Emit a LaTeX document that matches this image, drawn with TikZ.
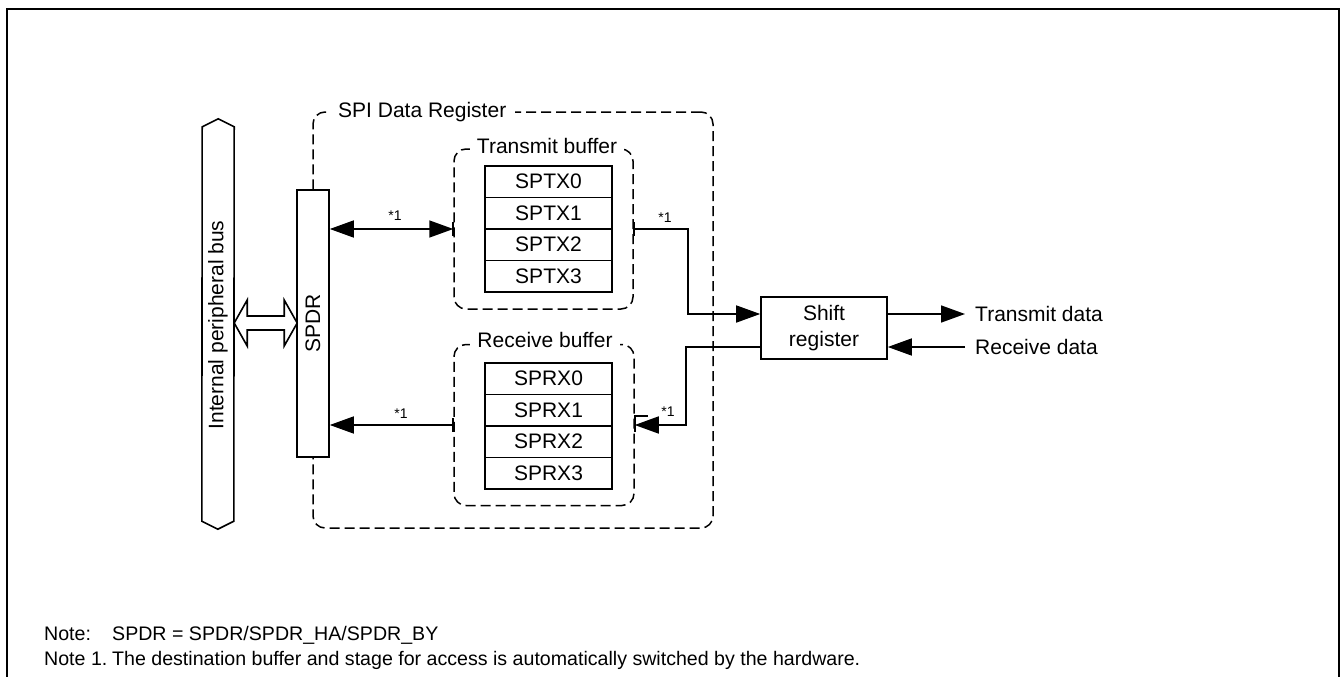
\documentclass[tikz,border=0pt]{standalone}
\usepackage{fontspec}
\setmainfont{Liberation Sans}
\usetikzlibrary{arrows.meta,calc}
\begin{document}
\begin{tikzpicture}[x=1pt,y=-1pt,
 every node/.style={font=\fontsize{21}{25}\selectfont, inner sep=0pt},
 box/.style={draw, line width=1.6pt, fill=white},
 dbox/.style={draw, line width=1.5pt, dash pattern=on 10pt off 5pt, rounded corners=12pt},
 lbl/.style={fill=white, inner ysep=3pt},
 arr/.style={line width=1.6pt, -{Triangle[length=24pt,width=17pt]}},
 darr/.style={line width=1.6pt, {Triangle[length=24pt,width=17pt]}-{Triangle[length=24pt,width=17pt]}},
 star/.style={font=\fontsize{14}{16}\selectfont},
 reg/.style={box, minimum width=127pt, minimum height=31.5pt},
 tick/.style={line width=1.6pt},
 note/.style={font=\fontsize{19.6}{24}\selectfont, anchor=base west},
]
\useasboundingbox (0,0) rectangle (1341,677);
\draw[line width=2.4pt] (7,690) -- (7,9) -- (1339,9) -- (1339,690);

% SPI data register
\node[dbox, minimum width=400pt, minimum height=416pt] (spi) at (513,320) {};
\node[lbl, inner xsep=9pt, anchor=west] (spil) at (329,112) {SPI Data Register};

% transmit buffer
\node[dbox, minimum width=179pt, minimum height=160pt] (txb) at (543.5,229) {};
\node[lbl, inner xsep=7pt] (txbl) at (547,146) {Transmit buffer};
\node[reg] (tx0) at (548.5,181.75) {SPTX0};
\node[reg] (tx1) at (548.5,213.25) {SPTX1};
\node[reg] (tx2) at (548.5,244.75) {SPTX2};
\node[reg] (tx3) at (548.5,276.25) {SPTX3};

% receive buffer
\node[dbox, minimum width=180pt, minimum height=161pt] (rxb) at (544,425) {};
\node[lbl, inner xsep=7pt] (rxbl) at (545,340) {Receive buffer};
\node[reg] (rx0) at (548.5,378.75) {SPRX0};
\node[reg] (rx1) at (548.5,410.25) {SPRX1};
\node[reg] (rx2) at (548.5,441.75) {SPRX2};
\node[reg] (rx3) at (548.5,473.25) {SPRX3};

% SPDR
\node[box, minimum width=32pt, minimum height=267pt] (spdr) at (313,323.5) {};
\node[rotate=90] (spdrl) at (spdr) {SPDR};

% bus
\node[minimum width=32pt, minimum height=394pt] (bus) at (218,324) {};
\draw[line width=1.6pt] (bus.south west) -- ++(16,8) -- ++(16,-8) -- (bus.north east) -- ++(-16,-8) -- ++(-16,8) -- cycle;
\node[rotate=90] (busl) at (218,325) {Internal peripheral bus};
\draw[line width=1.6pt] (bus.east |- 0,323) -- ++(13,-23) -- ++(0,16) -- ++(37,0) -- ++(0,-16) -- ++(13,23)
  -- ++(-13,23) -- ++(0,-16) -- ++(-37,0) -- ++(0,16) -- cycle;

% shift register
\node[box, minimum width=126pt, minimum height=62pt, align=center, font=\fontsize{21}{26}\selectfont] (shift) at (824,328) {Shift\\register};
\node[anchor=west] (txd) at (975,314) {Transmit data};
\node[anchor=west] (rxd) at (975,347) {Receive data};
\coordinate (sin) at (shift.west |- txd.west);

% connectors
\draw[darr] (spdr.east |- txb.west) -- (txb.west);
\node[star] at (395,216) {*1};
\draw[arr] (txb.east) -- ++(54,0) |- (sin);
\node[star] at (665,218) {*1};
\draw[arr] (shift.east |- txd.west) -- ([xshift=-10pt]txd.west);
\draw[arr] ([xshift=-10pt]rxd.west) -- (shift.east |- rxd.west);
\draw[arr] (shift.west |- rxd.west) -- ++(-74,0) |- (rxb.east);
\node[star] at (668,412) {*1};
\draw[arr] (rxb.west) -- (spdr.east |- rxb.west);
\node[star] at (401,414) {*1};

% ticks
\draw[tick] ([yshift=7pt]txb.west) -- ([yshift=-7pt]txb.west);
\draw[tick] ([yshift=7pt]txb.east) -- ([yshift=-7pt]txb.east);
\draw[tick] ([yshift=7pt]rxb.west) -- ([yshift=-7pt]rxb.west);
\draw[tick] ([yshift=-7pt]rxb.east) -- ([yshift=9pt]rxb.east) -- ++(13,0);

% notes
\node[note] (n0) at (44,640) {Note:};
\node[note] (n0t) at (112,640) {SPDR = SPDR/SPDR\_HA/SPDR\_BY};
\node[note] (n1) at (44,665) {Note 1.};
\node[note] (n1t) at (112,665) {The destination buffer and stage for access is automatically switched by the hardware.};
\end{tikzpicture}
\end{document}
